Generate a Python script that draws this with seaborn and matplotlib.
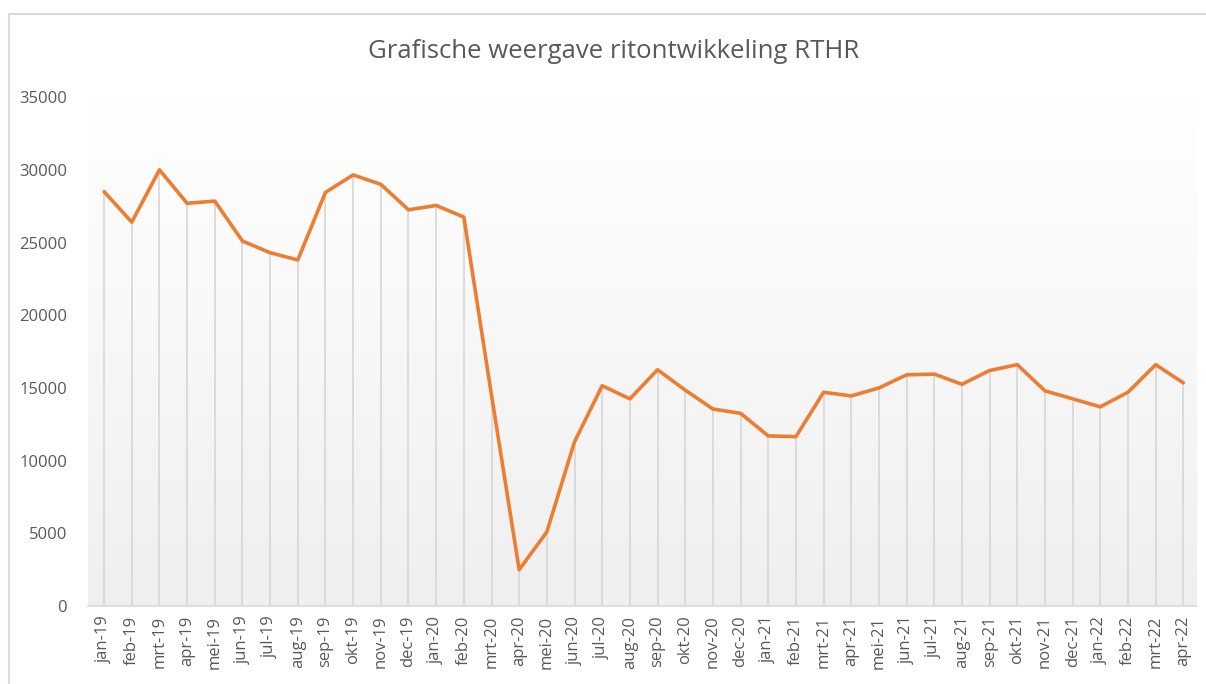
import numpy as np
import pandas as pd
import matplotlib
matplotlib.use("Agg")
import matplotlib.pyplot as plt
from matplotlib.lines import Line2D
import seaborn as sns

# maanden en aantal ritten
maanden = ['jan-19', 'feb-19', 'mrt-19', 'apr-19', 'mei-19', 'jun-19', 'jul-19', 'aug-19',
           'sep-19', 'okt-19', 'nov-19', 'dec-19',
           'jan-20', 'feb-20', 'mrt-20', 'apr-20', 'mei-20', 'jun-20', 'jul-20', 'aug-20',
           'sep-20', 'okt-20', 'nov-20', 'dec-20',
           'jan-21', 'feb-21', 'mrt-21', 'apr-21', 'mei-21', 'jun-21', 'jul-21', 'aug-21',
           'sep-21', 'okt-21', 'nov-21', 'dec-21',
           'jan-22', 'feb-22', 'mrt-22', 'apr-22']
ritten = [28500, 26400, 30000, 27700, 27850, 25100, 24300, 23800,
          28450, 29650, 29000, 27250,
          27550, 26750, 14500, 2500, 5100, 11300, 15150, 14250,
          16250, 14850, 13550, 13250,
          11700, 11650, 14700, 14450, 15000, 15900, 15950, 15250,
          16200, 16600, 14800, 14250,
          13700, 14700, 16600, 15350]
y_ticks = [0, 5000, 10000, 15000, 20000, 25000, 30000, 35000]

df = pd.DataFrame({'maand': maanden, 'ritten': ritten})
df['pos'] = np.arange(len(df))

sns.set_style("white")
plt.rcParams['font.family'] = ['Open Sans', 'DejaVu Sans']

tekst = '#595959'
fig = plt.figure(figsize=(12.06, 6.84), dpi=100)
ax = fig.add_axes([0.073, 0.114, 0.919, 0.744])

# achtergrond met verloop (wit naar lichtgrijs)
grad = np.linspace(0, 1, 256).reshape(-1, 1)
cmap = matplotlib.colors.LinearSegmentedColormap.from_list('bg', ['#ffffff', '#efefef'])
ax.imshow(grad, cmap=cmap, aspect='auto', extent=(-0.58, 39.47, 0, 35000),
          origin='upper', zorder=0)

# verticale lijnen naar de as
ax.vlines(df['pos'], 0, df['ritten'], color='#d6d6d6', lw=1.2, zorder=1)

sns.lineplot(data=df, x='pos', y='ritten', color='#ED7D31', lw=2.6, ax=ax, zorder=3)

ax.set_xlim(-0.58, 39.47)
ax.set_ylim(0, 35000)
ax.set_xticks(df['pos'])
ax.set_xticklabels(df['maand'], rotation=90, fontsize=12, color=tekst)
ax.set_yticks(y_ticks)
ax.set_yticklabels([str(v) for v in y_ticks], fontsize=12, color=tekst)
ax.tick_params(axis='y', length=0, pad=15)
ax.tick_params(axis='x', length=0, pad=7)
ax.set_xlabel('')
ax.set_ylabel('')
for s in ['top', 'right', 'left']:
    ax.spines[s].set_visible(False)
ax.spines['bottom'].set_color('#d9d9d9')
ax.spines['bottom'].set_linewidth(1.2)

fig.text(0.509, 0.924, 'Grafische weergave ritontwikkeling RTHR', ha='center', va='center',
         fontsize=18.5, color=tekst)

# rand van de grafiek
fig.add_artist(Line2D([9 / 1206, 1], [1 - 14 / 684, 1 - 14 / 684], color='#d9d9d9', lw=1.5))
fig.add_artist(Line2D([9 / 1206, 9 / 1206], [0, 1 - 14 / 684], color='#d9d9d9', lw=1.5))

fig.savefig('out.png', dpi=100)
